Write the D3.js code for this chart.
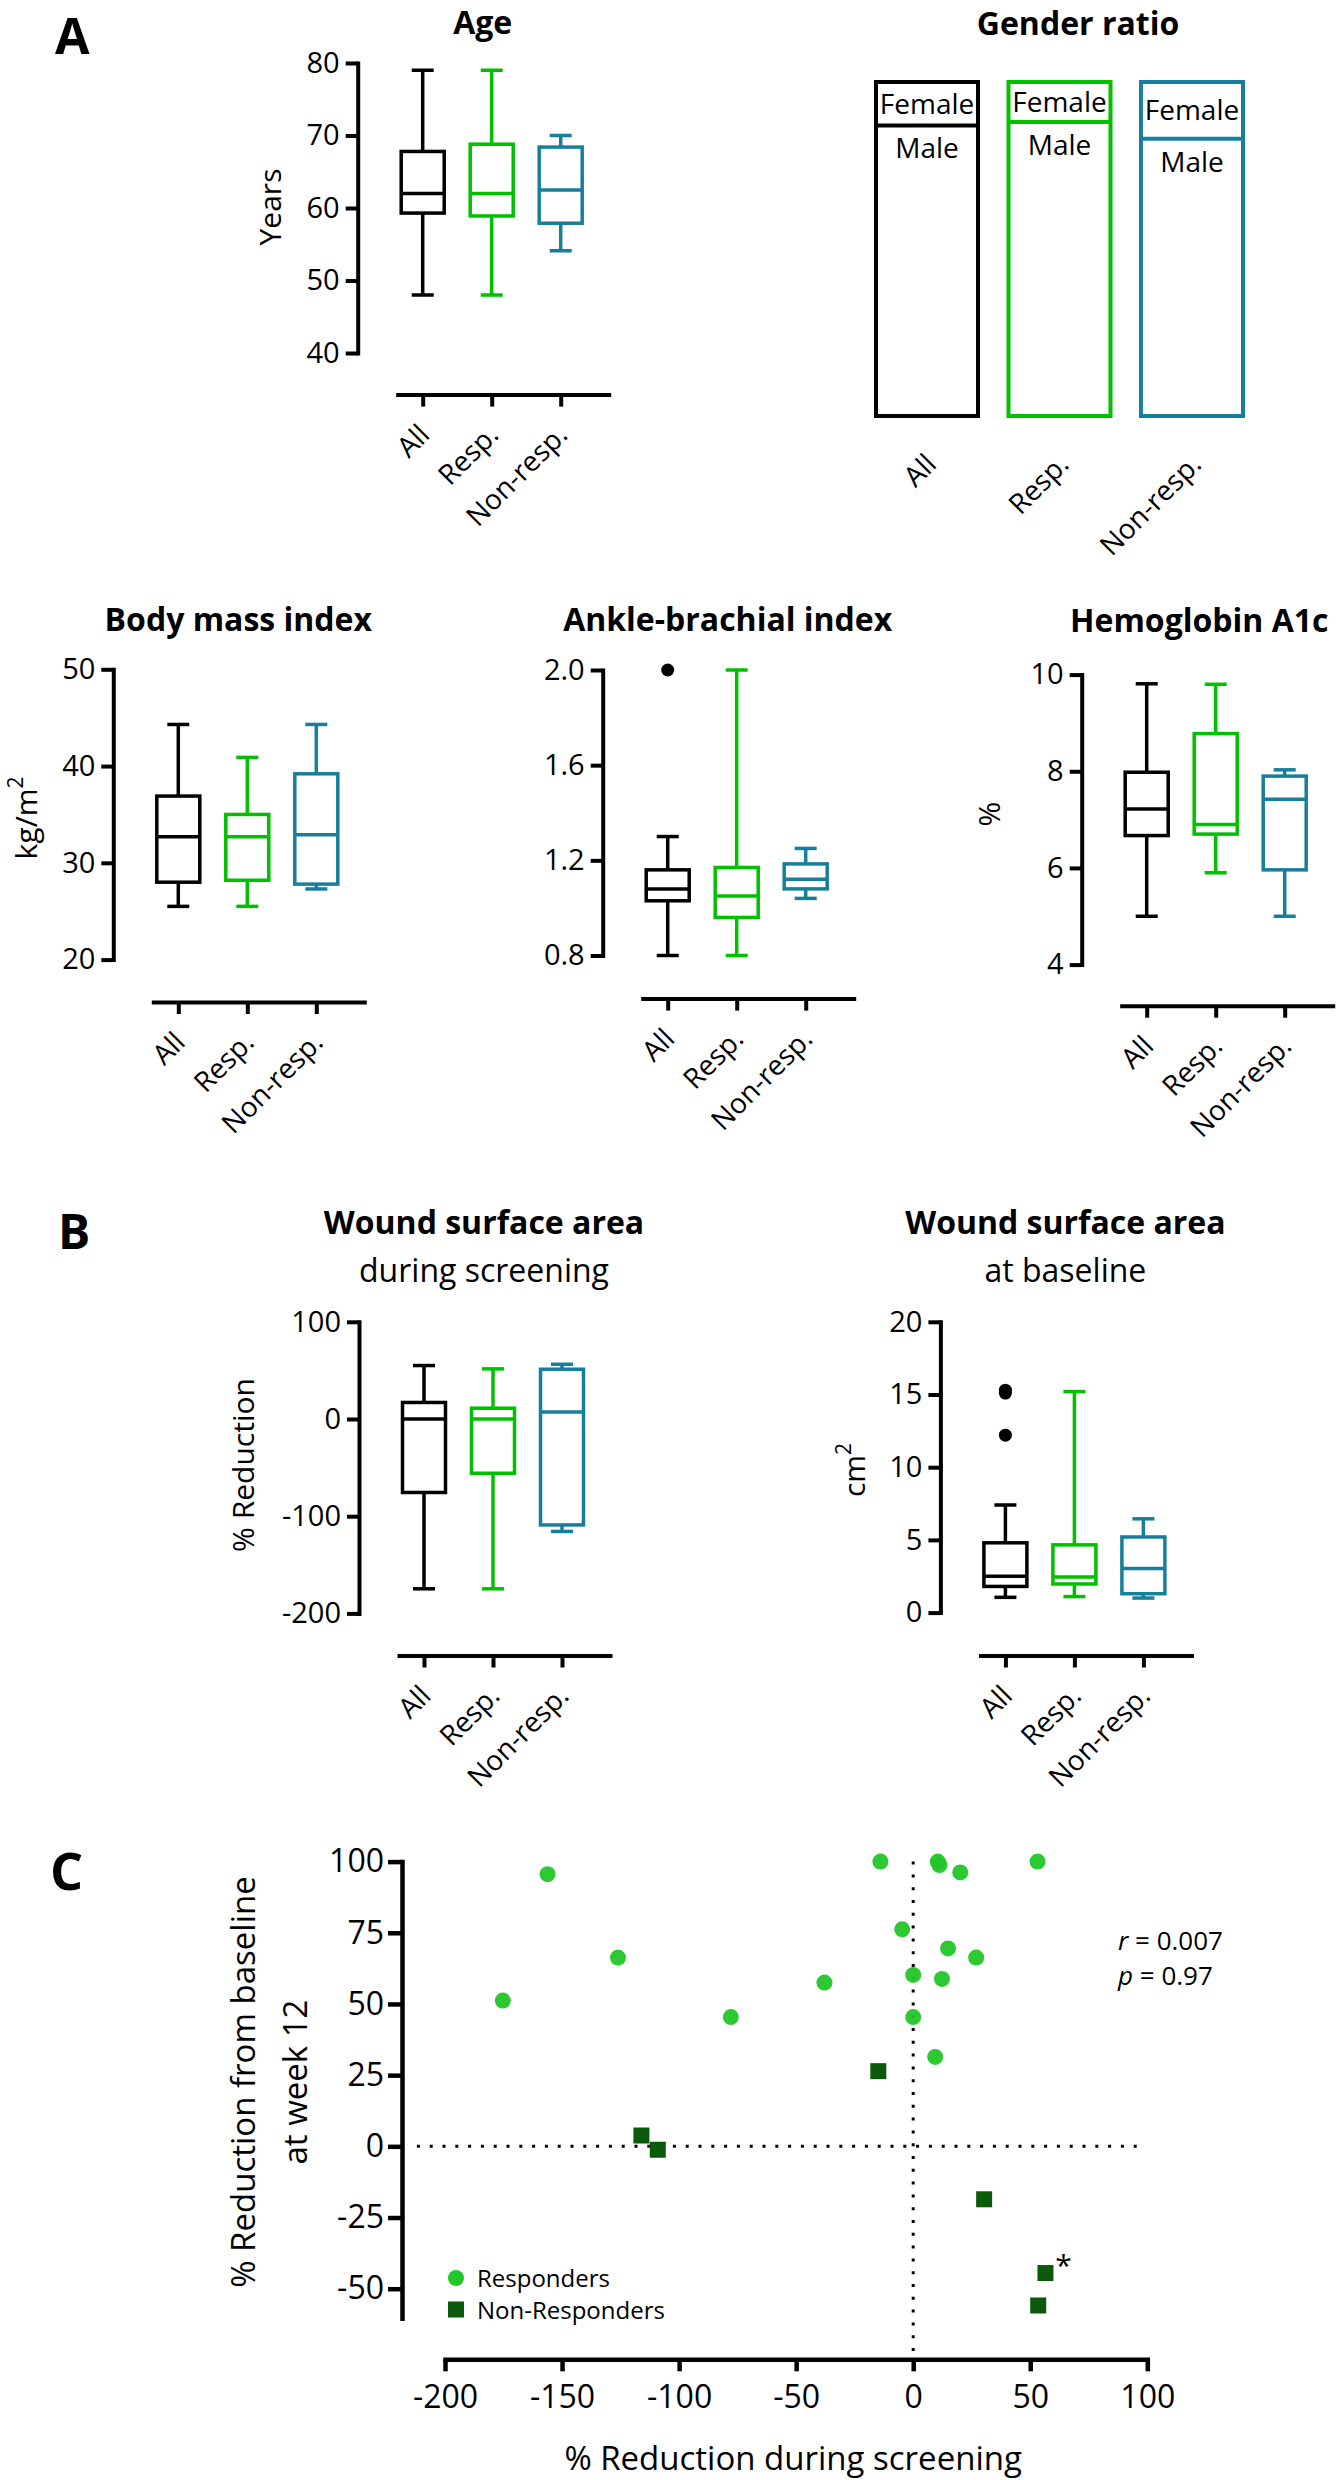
<!DOCTYPE html>
<html><head><meta charset="utf-8">
<script src="https://cdn.jsdelivr.net/npm/d3@7"></script>
<style>
html,body{margin:0;padding:0;background:#fff;}
svg{display:block;font-family:"Open Sans",sans-serif;}
</style></head><body>
<svg id="chart" width="1341" height="2480"></svg>
<script>
// ---------------- DATA ----------------
const groups = ["All", "Resp.", "Non-resp."];
// box stats per group: [min, Q1, median, Q3, max]
const ageStats = [[48, 59.3, 62, 67.8, 79], [48, 58.9, 62, 68.8, 79], [54.1, 57.9, 62.5, 68.4, 70]];
const ageTicks = [40, 50, 60, 70, 80];
const femaleFraction = [0.13, 0.12, 0.17];
const bmiStats = [[25.5, 28.0, 32.7, 36.9, 44.3], [25.5, 28.2, 32.7, 35.0, 40.9], [27.3, 27.8, 32.9, 39.2, 44.3]];
const bmiTicks = [20, 30, 40, 50];
const abiStats = [[0.8, 1.03, 1.08, 1.16, 1.30], [0.8, 0.96, 1.05, 1.17, 2.0], [1.04, 1.08, 1.12, 1.185, 1.25]];
const abiOutliers = [[2.0], [], []];
const abiTicks = [0.8, 1.2, 1.6, 2.0];
const hba1cStats = [[5.0, 6.67, 7.22, 7.98, 9.81], [5.9, 6.7, 6.9, 8.78, 9.8], [5.0, 5.96, 7.42, 7.9, 8.03]];
const hba1cTicks = [4, 6, 8, 10];
const screeningStats = [[-174.7, -75.6, 0, 17, 55], [-174.7, -55.8, 0, 11.1, 51.6], [-115.7, -109, 7.1, 51.2, 56.3]];
const screeningTicks = [-200, -100, 0, 100];
const baselineStats = [[1.05, 1.8, 2.5, 4.8, 7.4], [1.1, 1.97, 2.45, 4.66, 15.2], [1.0, 1.3, 3.03, 5.2, 6.45]];
const baselineOutliers = [[15.3, 15.1, 12.2], [], []];
const baselineTicks = [0, 5, 10, 15, 20];
// scatter (panel C)
const respX = [-14, 10.5, 11.2, 20.1, 53.1, -156.2, -4.7, 14.9, -126.1, 26.9, 0, 12.3, -37.9, -175.3, -77.9, 0, 9.4];
const respY = [100, 100, 98.8, 96.2, 100, 95.6, 76.2, 69.5, 66.3, 66.3, 60.2, 58.8, 57.5, 51.2, 45.4, 45.4, 31.4];
const nonRespX = [-14.9, -116.1, -109.1, 30.3, 56.5, 53.4];
const nonRespY = [26.4, 3.8, -1.2, -18.6, -44.5, -55.9];
const starIndex = 4;
const scatterXTicks = [-200, -150, -100, -50, 0, 50, 100];
const scatterYTicks = [-50, -25, 0, 25, 50, 75, 100];
const statsText = [["r", " = 0.007"], ["p", " = 0.97"]];
const legendLabels = ["Responders", "Non-Responders"];

// ---------------- STYLE ----------------
const svg = d3.select("#chart");
const BLACK = "#000", GREEN = "#00c000", TEAL = "#177f9b";
const groupColors = [BLACK, GREEN, TEAL];
const RESP_COL = "#22c628", NONRESP_COL = "#0b5a0b";
const loc = d3.formatLocale({decimal: ".", thousands: ",", grouping: [3], currency: ["", ""], minus: "-"});
const fmtInt = loc.format("d"), fmt1 = loc.format(".1f");

function styleAxis(sel, fs, sw) {
  sel.attr("font-family", '"Open Sans", sans-serif').attr("font-size", fs);
  sel.select(".domain").attr("stroke", "#000").attr("stroke-width", sw).attr("stroke-linecap", "square");
  sel.selectAll(".tick line").attr("stroke", "#000").attr("stroke-width", sw);
  sel.selectAll(".tick text").attr("fill", "#000");
}

function letter(t, x, y, fs) {
  svg.append("text").attr("x", x).attr("y", y).attr("font-size", fs).attr("font-weight", 700).text(t);
}

function boxPanel(cfg) {
  const g = svg.append("g");
  const ext = d3.extent(cfg.ticks);
  const y = d3.scaleLinear().domain(ext).range([cfg.yBot, cfg.yTop]);
  const len = 211, step = 69, leftGap = 25;
  const x = d3.scalePoint().domain(groups).range([cfg.x0 + 40, cfg.x0 + 40 + len])
    .padding((len / step - 2) / 2).align(leftGap / (len - 2 * step));
  const ya = g.append("g").attr("transform", `translate(${cfg.x0},0)`)
    .call(d3.axisLeft(y).tickValues(cfg.ticks).tickSize(12).tickSizeOuter(0).tickPadding(6)
      .tickFormat(cfg.fmt || fmtInt));
  styleAxis(ya, 29, 4);
  const xa = g.append("g").attr("transform", `translate(0,${cfg.axisY})`)
    .call(d3.axisBottom(x).tickSize(12).tickSizeOuter(0));
  styleAxis(xa, 28, 4);
  xa.selectAll(".tick text").attr("text-anchor", "end").attr("dy", 0)
    .attr("x", 8).attr("y", 42).attr("transform", "rotate(-45,8,42)");
  // title
  const tcx = cfg.x0 + 125;
  g.append("text").attr("x", cfg.titleX || tcx).attr("y", cfg.titleY)
    .attr("text-anchor", cfg.titleAnchor || "middle").attr("font-size", 32).attr("font-weight", 700).text(cfg.title);
  if (cfg.subtitle) {
    g.append("text").attr("x", tcx).attr("y", cfg.subY).attr("text-anchor", "middle")
      .attr("font-size", 32).text(cfg.subtitle);
  }
  // y label
  if (cfg.ylabel) {
    const t = g.append("text").attr("transform", `translate(${cfg.ylx},${cfg.yly}) rotate(-90)`)
      .attr("text-anchor", "middle").attr("font-size", 30);
    t.append("tspan").text(cfg.ylabel);
    if (cfg.ysup) t.append("tspan").attr("font-size", 21).attr("dy", -14).text(cfg.ysup);
  }
  // boxes
  cfg.stats.forEach((s, i) => {
    const cx = x(groups[i]);
    const [mn, q1, md, q3, mx] = s;
    const bw = 43, cw = 22;
    const b = g.append("g").attr("stroke", groupColors[i]).attr("stroke-width", 3.5).attr("fill", "none");
    b.append("line").attr("x1", cx).attr("x2", cx).attr("y1", y(mx)).attr("y2", y(q3));
    b.append("line").attr("x1", cx).attr("x2", cx).attr("y1", y(q1)).attr("y2", y(mn));
    b.append("line").attr("x1", cx - cw / 2).attr("x2", cx + cw / 2).attr("y1", y(mx)).attr("y2", y(mx));
    b.append("line").attr("x1", cx - cw / 2).attr("x2", cx + cw / 2).attr("y1", y(mn)).attr("y2", y(mn));
    b.append("rect").attr("x", cx - bw / 2).attr("y", y(q3)).attr("width", bw).attr("height", y(q1) - y(q3)).attr("fill", "#fff");
    b.append("line").attr("x1", cx - bw / 2).attr("x2", cx + bw / 2).attr("y1", y(md)).attr("y2", y(md));
    if (cfg.outliers) {
      cfg.outliers[i].forEach(v => {
        g.append("circle").attr("cx", cx).attr("cy", y(v)).attr("r", 6.5).attr("fill", groupColors[i]);
      });
    }
  });
}

// ---------------- PANEL A ----------------
letter("A", 55, 54, 50);
boxPanel({x0: 357.7, yTop: 63, yBot: 353, axisY: 394.6, ticks: ageTicks, stats: ageStats,
  title: "Age", titleY: 34, ylabel: "Years", ylx: 281, yly: 207});

// Gender ratio
(function () {
  const g = svg.append("g");
  const gx = d3.scaleBand().domain(groups).range([876, 1243]).paddingInner(0.23).paddingOuter(0);
  const gy = d3.scaleLinear().domain([0, 1]).range([416, 82]);
  g.append("text").attr("x", 1078).attr("y", 35).attr("text-anchor", "middle")
    .attr("font-size", 32).attr("font-weight", 700).text("Gender ratio");
  groups.forEach((grp, i) => {
    const x0 = gx(grp), w = gx.bandwidth(), cx = x0 + w / 2, f = femaleFraction[i];
    g.append("rect").attr("x", x0).attr("y", gy(1)).attr("width", w).attr("height", gy(0) - gy(1))
      .attr("fill", "none").attr("stroke", groupColors[i]).attr("stroke-width", 4);
    g.append("line").attr("x1", x0).attr("x2", x0 + w).attr("y1", gy(1 - f)).attr("y2", gy(1 - f))
      .attr("stroke", groupColors[i]).attr("stroke-width", 4);
    g.append("text").attr("x", cx).attr("y", (gy(1) + gy(1 - f)) / 2 + 10).attr("text-anchor", "middle")
      .attr("font-size", 28).text("Female");
    g.append("text").attr("x", cx).attr("y", gy(1 - f) + 33).attr("text-anchor", "middle")
      .attr("font-size", 28).text("Male");
    g.append("text").attr("text-anchor", "end").attr("font-size", 28)
      .attr("transform", `translate(${cx + 11},466) rotate(-45)`).text(grp);
  });
})();

boxPanel({x0: 113.3, yTop: 669.3, yBot: 959.6, axisY: 1002, ticks: bmiTicks, stats: bmiStats,
  title: "Body mass index", titleY: 631, ylabel: "kg/m", ysup: "2", ylx: 37, yly: 818});
boxPanel({x0: 602.7, yTop: 670, yBot: 955.5, axisY: 998.6, ticks: abiTicks, stats: abiStats,
  outliers: abiOutliers, fmt: fmt1, title: "Ankle-brachial index", titleY: 631});
boxPanel({x0: 1081.7, yTop: 674.6, yBot: 964.6, axisY: 1005.7, ticks: hba1cTicks, stats: hba1cStats,
  title: "Hemoglobin A1c", titleY: 632, titleX: 1070, titleAnchor: "start", ylabel: "%", ylx: 1000, yly: 814});

// ---------------- PANEL B ----------------
letter("B", 58, 1249, 48);
boxPanel({x0: 359, yTop: 1321.8, yBot: 1613.4, axisY: 1655.5, ticks: screeningTicks, stats: screeningStats,
  title: "Wound surface area", titleY: 1234, subtitle: "during screening", subY: 1282,
  ylabel: "% Reduction", ylx: 254, yly: 1465});
boxPanel({x0: 940.4, yTop: 1321.8, yBot: 1612.6, axisY: 1655.5, ticks: baselineTicks, stats: baselineStats,
  outliers: baselineOutliers, title: "Wound surface area", titleY: 1234, subtitle: "at baseline", subY: 1282,
  ylabel: "cm", ysup: "2", ylx: 865, yly: 1470});

// ---------------- PANEL C ----------------
letter("C", 50, 1890, 52);
(function () {
  const g = svg.append("g");
  const sx = d3.scaleLinear().domain([-200, 100]).range([445, 1147.3]);
  const yMin = -60.4;
  const sy = d3.scaleLinear().domain([-50, 100]).range([2288.7, 1861.6]);
  const syAxis = sy.copy().domain([yMin, 100]).range([sy(yMin), sy(100)]);
  const xAxisY = sy(yMin) + 41;
  const yAxisX = sx(-200) - 43;

  // dotted reference lines
  g.append("line").attr("x1", sx(-212)).attr("x2", sx(97)).attr("y1", sy(0)).attr("y2", sy(0))
    .attr("stroke", "#000").attr("stroke-width", 3).attr("stroke-dasharray", "3 9.8");
  g.append("line").attr("x1", sx(0)).attr("x2", sx(0)).attr("y1", sy(100)).attr("y2", xAxisY)
    .attr("stroke", "#000").attr("stroke-width", 3).attr("stroke-dasharray", "3 9.8");

  const ya = g.append("g").attr("transform", `translate(${yAxisX},0)`)
    .call(d3.axisLeft(syAxis).tickValues(scatterYTicks).tickSize(14).tickSizeOuter(0).tickPadding(4).tickFormat(fmtInt));
  styleAxis(ya, 32, 4.5);
  const xa = g.append("g").attr("transform", `translate(0,${xAxisY})`)
    .call(d3.axisBottom(sx).tickValues(scatterXTicks).tickSize(12).tickSizeOuter(0).tickPadding(14).tickFormat(fmtInt));
  styleAxis(xa, 32, 4.5);

  // axis titles
  g.append("text").attr("x", (sx(-200) + sx(100)) / 2 - 3).attr("y", 2470).attr("text-anchor", "middle")
    .attr("font-size", 33).text("% Reduction during screening");
  const yt = g.append("text").attr("transform", `translate(255,2082) rotate(-90)`).attr("text-anchor", "middle")
    .attr("font-size", 33);
  yt.append("tspan").attr("x", 0).attr("y", 0).text("% Reduction from baseline");
  yt.append("tspan").attr("x", 0).attr("y", 52).text("at week 12");

  // points
  respX.forEach((v, i) => {
    g.append("circle").attr("cx", sx(v)).attr("cy", sy(respY[i])).attr("r", 8).attr("fill", RESP_COL)
      .attr("fill-opacity", 0.95);
  });
  nonRespX.forEach((v, i) => {
    g.append("rect").attr("x", sx(v) - 8).attr("y", sy(nonRespY[i]) - 8).attr("width", 16).attr("height", 16)
      .attr("fill", NONRESP_COL);
  });
  g.append("text").attr("x", sx(nonRespX[starIndex]) + 18).attr("y", sy(nonRespY[starIndex]) + 3)
    .attr("text-anchor", "middle").attr("font-size", 30).text("*");

  // legend
  const lx = 456, ly = 2278;
  g.append("circle").attr("cx", lx).attr("cy", ly).attr("r", 8).attr("fill", RESP_COL);
  g.append("rect").attr("x", lx - 8).attr("y", ly + 31.5 - 8).attr("width", 16).attr("height", 16).attr("fill", NONRESP_COL);
  legendLabels.forEach((t, i) => {
    g.append("text").attr("x", lx + 21).attr("y", ly + 9 + i * 31.5).attr("font-size", 24).text(t);
  });

  // stats
  statsText.forEach((s, i) => {
    const t = g.append("text").attr("x", 1118).attr("y", 1950 + i * 35).attr("font-size", 26);
    t.append("tspan").attr("font-style", "italic").text(s[0]);
    t.append("tspan").text(s[1]);
  });
})();
</script>
</body></html>
